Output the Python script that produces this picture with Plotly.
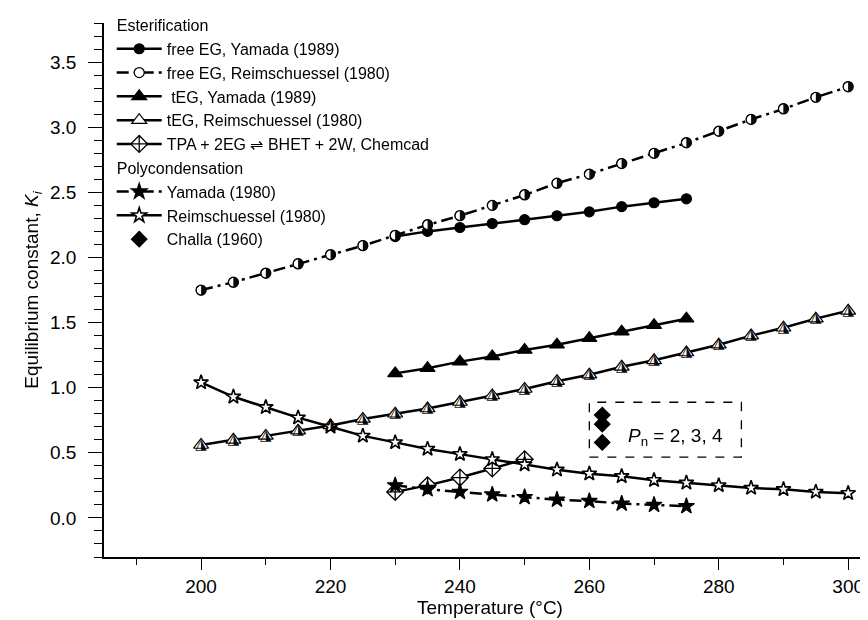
import plotly.graph_objects as go

# ---------------- data ----------------
T_full = [200, 205, 210, 215, 220, 225, 230, 235, 240, 245, 250,
          255, 260, 265, 270, 275, 280, 285, 290, 295, 300]
T_yam = [230, 235, 240, 245, 250, 255, 260, 265, 270, 275]
T_tpa = [230, 235, 240, 245, 250]

free_eg_yamada = [2.16, 2.20, 2.23, 2.26, 2.29, 2.32, 2.35, 2.39, 2.42, 2.45]
free_eg_reim = [1.75, 1.81, 1.88, 1.95, 2.02, 2.09, 2.17, 2.25, 2.32, 2.40, 2.48,
                2.57, 2.64, 2.72, 2.80, 2.88, 2.97, 3.06, 3.14, 3.23, 3.31]
teg_yamada = [1.11, 1.15, 1.20, 1.24, 1.29, 1.33, 1.38, 1.43, 1.48, 1.53]
teg_reim = [0.56, 0.60, 0.63, 0.67, 0.71, 0.76, 0.80, 0.84, 0.89, 0.94, 0.99,
            1.05, 1.10, 1.16, 1.21, 1.27, 1.33, 1.40, 1.46, 1.53, 1.59]
tpa_chemcad = [0.20, 0.25, 0.31, 0.38, 0.45]
poly_yamada = [0.25, 0.22, 0.20, 0.18, 0.16, 0.14, 0.13, 0.11, 0.10, 0.09]
poly_reim = [1.04, 0.93, 0.85, 0.77, 0.70, 0.63, 0.58, 0.53, 0.49, 0.45, 0.41,
             0.37, 0.34, 0.32, 0.29, 0.27, 0.25, 0.23, 0.22, 0.20, 0.19]
challa_T = [262, 262, 262]
challa_K = [0.79, 0.72, 0.58]

names = {
    "fy": "free EG, Yamada (1989)",
    "fr": "free EG, Reimschuessel (1980)",
    "ty": " tEG, Yamada (1989)",
    "tr": "tEG, Reimschuessel (1980)",
    "tpa": "TPA + 2EG \u21cc BHET + 2W, Chemcad",
    "py": "Yamada (1980)",
    "pr": "Reimschuessel (1980)",
    "ch": "Challa (1960)",
}

# annotation box for Challa points
box_x = [260, 283.5]
box_y = [0.467, 0.888]
box_label = "<i>P</i><sub>n</sub> = 2, 3, 4"
box_label_pos = (273.3, 0.62)

FONT = "Liberation Sans, Arial, Helvetica, sans-serif"
BLACK = "black"
LW = 2.5
DASHDOT = "12px,5px,3px,5px"

fig = go.Figure()

def add(x, y, name, group, gtitle, dash="solid", symbol="circle", color=BLACK,
        size=10, mode="lines+markers", lw=1.2):
    fig.add_trace(go.Scatter(
        x=x, y=y, name=name, mode=mode,
        legendgroup=group, legendgrouptitle_text=gtitle,
        line=dict(color=BLACK, width=LW, dash=dash),
        marker=dict(symbol=symbol, size=size, color=color,
                    line=dict(color=BLACK, width=lw)),
    ))

def glyph(x, y, ch, size):
    fig.add_trace(go.Scatter(
        x=x, y=y, mode="text", text=[ch] * len(x), showlegend=False,
        textposition="middle center", hoverinfo="skip", opacity=0.98,
        textfont=dict(family="DejaVu Sans", size=size, color="rgba(0,0,0,0.99)"),
    ))

E = "Esterification"
P = "Polycondensation"
add(T_yam, free_eg_yamada, names["fy"], "est", E, symbol="circle", size=10)
add(T_full, free_eg_reim, names["fr"], "est", E, dash=DASHDOT, symbol="circle",
    color="white", size=10)
add(T_yam, teg_yamada, names["ty"], "est", E, symbol="triangle-up", size=13)
add(T_full, teg_reim, names["tr"], "est", E, symbol="triangle-up", color="white", size=13)
add(T_tpa, tpa_chemcad, names["tpa"], "est", E, symbol="diamond-cross", color="white",
    size=13, lw=1.3)
add(T_yam, poly_yamada, names["py"], "poly", P, dash=DASHDOT, symbol="star", size=12)
add(T_full, poly_reim, names["pr"], "poly", P, symbol="star", color="white", size=11, lw=1.6)
add(challa_T, challa_K, names["ch"], "poly", P, symbol="diamond", size=12, mode="markers")

# half-filled markers drawn as glyphs on top of the white markers
glyph(T_full, free_eg_reim, "\u25d1", 14)
glyph(T_full, teg_reim, "\u25ee", 15)

fig.add_shape(type="rect", xref="x", yref="y",
              x0=box_x[0], x1=box_x[1], y0=box_y[0], y1=box_y[1],
              line=dict(color=BLACK, width=1.3, dash="dash"))
fig.add_annotation(x=box_label_pos[0], y=box_label_pos[1], xref="x", yref="y",
                   text=box_label, showarrow=False,
                   font=dict(family=FONT, size=19, color=BLACK))

axis_common = dict(
    showline=True, linecolor=BLACK, linewidth=1.5, mirror=False,
    ticks="outside", tickwidth=1.3, tickcolor=BLACK,
    showgrid=False, zeroline=False,
    tickfont=dict(family=FONT, size=19, color=BLACK),
)

fig.update_xaxes(
    range=[185, 304.3], tick0=200, dtick=20, ticklen=11,
    minor=dict(ticks="outside", ticklen=6, tickwidth=1.3, tickcolor=BLACK, dtick=10,
               tick0=190, showgrid=False),
    title=dict(text="Temperature (\u00b0C)", font=dict(family=FONT, size=19, color=BLACK),
               standoff=4),
    **axis_common,
)
fig.update_yaxes(
    range=[-0.3, 3.8], tick0=0, dtick=0.5, tickformat=".1f", ticklen=14,
    ticklabelstandoff=8,
    minor=dict(ticks="outside", ticklen=8, tickwidth=1.3, tickcolor=BLACK, dtick=0.1,
               showgrid=False),
    title=dict(text="Equilibrium constant, <i>K</i><sub><i>i</i></sub>",
               font=dict(family=FONT, size=19, color=BLACK), standoff=6),
    **axis_common,
)

fig.update_layout(
    width=868, height=620,
    margin=dict(l=96, r=0, t=12, b=71),
    paper_bgcolor="white", plot_bgcolor="white",
    font=dict(family=FONT, size=19, color=BLACK),
    showlegend=True,
    legend=dict(
        x=0.01, y=1.028, xanchor="left", yanchor="top",
        bgcolor="rgba(0,0,0,0)", borderwidth=0,
        font=dict(family=FONT, size=16, color=BLACK),
        grouptitlefont=dict(family=FONT, size=16, color=BLACK),
        tracegroupgap=0, itemwidth=45,
        traceorder="grouped",
    ),
)

fig.write_html("out.html")
